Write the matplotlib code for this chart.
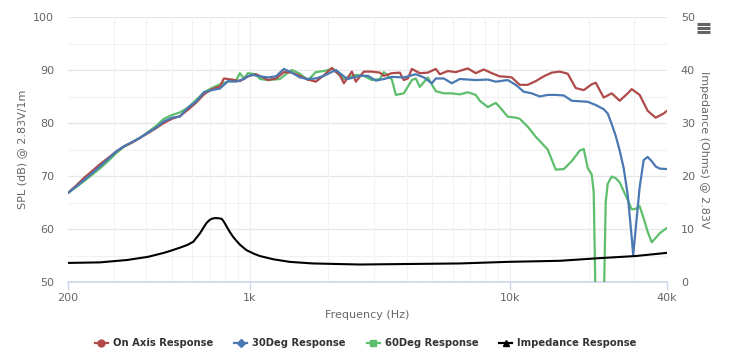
import numpy as np
import matplotlib
matplotlib.use("Agg")
import matplotlib.pyplot as plt
from matplotlib.lines import Line2D

# ---------------- data ----------------
on_axis_freq = [200, 215, 230, 247, 265, 285, 306, 328, 352, 378, 406, 435, 467, 502, 538, 578, 620, 666,
                714, 767, 794, 852, 915, 982, 1054, 1131, 1172, 1258, 1350, 1449, 1555, 1669, 1791, 1923,
                2064, 2215, 2295, 2463, 2551, 2738, 2939, 3154, 3269, 3509, 3766, 3900, 4041, 4186, 4492,
                4822, 5175, 5362, 5754, 6176, 6867, 7370, 7910, 8490, 9112, 9780, 10132, 10874, 11671,
                12526, 13444, 14430, 15487, 16622, 17840, 19147, 20550, 21292, 22852, 24527, 26324,
                28253, 29265, 31409, 33710, 36180, 38830, 40000]
on_axis_db = [66.8, 68.2, 69.6, 70.9, 72.2, 73.4, 74.6, 75.6, 76.3, 77.2, 78.1, 79.0, 80.0, 80.8, 81.3, 82.5,
              83.8, 85.4, 86.4, 86.9, 88.4, 88.2, 87.9, 88.8, 89.2, 88.5, 88.1, 88.4, 89.6, 89.5, 88.9,
              88.2, 87.8, 89.0, 90.4, 89.0, 87.5, 89.7, 87.8, 89.7, 89.7, 89.5, 88.9, 89.4, 89.5, 88.1,
              88.4, 90.2, 89.4, 89.5, 90.2, 89.2, 89.8, 89.6, 90.3, 89.4, 90.1, 89.4, 88.8, 88.7, 88.6,
              87.2, 87.2, 87.9, 88.8, 89.5, 89.7, 89.3, 86.6, 86.2, 87.3, 87.6, 84.8, 85.6, 84.2, 85.6,
              86.4, 85.3, 82.3, 81.0, 81.8, 82.3]

deg30_freq = [200, 215, 230, 247, 265, 285, 306, 328, 352, 378, 406, 435, 467, 502, 538, 578, 620, 666,
              714, 767, 823, 883, 948, 982, 1017, 1092, 1172, 1258, 1350, 1449, 1555, 1669, 1791, 1923,
              2138, 2295, 2377, 2644, 2838, 3046, 3269, 3509, 3900, 4337, 4654, 4996, 5175, 5554, 5961,
              6398, 7370, 8195, 8796, 9440, 9780, 10496, 11266, 12092, 12978, 13929, 14950, 16045,
              17221, 18483, 19838, 21292, 22852, 23672, 24527, 25406, 26324, 27267, 28253, 29265,
              29657, 30324, 31409, 32546, 33710, 34931, 36180, 37491, 40000]
deg30_db = [66.8, 68.0, 69.2, 70.5, 71.8, 73.2, 74.6, 75.6, 76.4, 77.2, 78.2, 79.1, 80.3, 81.0, 81.2, 82.9,
            84.0, 85.8, 86.2, 86.5, 87.9, 87.8, 88.3, 88.8, 89.1, 88.8, 88.6, 88.8, 90.2, 89.5, 88.6,
            88.3, 88.4, 88.9, 90.0, 88.8, 88.3, 88.9, 88.9, 88.0, 88.3, 88.7, 88.6, 89.2, 88.6, 87.5,
            88.4, 88.4, 87.5, 88.3, 88.1, 88.2, 87.8, 88.0, 88.1, 87.2, 85.9, 85.6, 85.0, 85.3, 85.3,
            85.2, 84.2, 84.1, 84.0, 83.4, 82.6, 81.8, 79.8, 77.6, 74.8, 71.5, 66.5, 58.5, 55.1, 60.0,
            67.9, 73.0, 73.6, 72.8, 71.8, 71.4, 71.3]

deg60_freq = [200, 215, 230, 247, 265, 285, 306, 328, 352, 378, 406, 435, 467, 502, 538, 578, 620, 666,
              714, 767, 823, 883, 915, 948, 982, 1054, 1092, 1172, 1303, 1399, 1449, 1555, 1669, 1791,
              1923, 2064, 2215, 2295, 2551, 2738, 2939, 3154, 3269, 3509, 3634, 3900, 4186, 4337,
              4492, 4822, 5175, 5554, 5961, 6398, 6867, 7370, 7635, 8195, 8796, 9112, 9780, 10496,
              10874, 11671, 12526, 13444, 13929, 14950, 16045, 17221, 18483, 19147, 19838, 20550,
              20916, 21292, 22056, 22852, 23259, 23672, 24527, 25406, 26324, 28253, 29265, 30324,
              31409, 32546, 33710, 34931, 36180, 37491, 40000]
deg60_db = [66.8, 67.9, 69.0, 70.2, 71.4, 72.8, 74.3, 75.5, 76.3, 77.2, 78.3, 79.4, 80.8, 81.5, 82.0, 82.9,
            84.3, 85.8, 86.6, 87.3, 87.8, 88.0, 89.4, 88.4, 89.4, 89.2, 88.3, 88.1, 88.3, 89.5, 90.0,
            89.3, 88.1, 89.6, 89.8, 90.2, 89.0, 88.3, 89.1, 88.9, 88.1, 88.3, 89.6, 88.2, 85.3, 85.6,
            88.1, 88.4, 86.8, 88.6, 86.0, 85.6, 85.6, 85.4, 85.8, 85.3, 84.2, 83.0, 83.8, 83.0, 81.2,
            81.0, 80.8, 79.3, 77.4, 75.8, 75.0, 71.2, 71.3, 72.8, 74.8, 75.1, 71.5, 70.3, 67.0, 45.0,
            40.0, 45.0, 65.0, 68.5, 69.9, 69.6, 68.8, 65.5, 63.7, 63.8, 64.3, 62.0, 59.5, 57.5, 58.3,
            59.2, 60.2]

imp_freq = [200, 265, 337, 406, 467, 493, 540, 575, 606, 643, 662, 680, 696, 711, 730, 747, 764, 780,
            798, 815, 838, 862, 890, 917, 970, 1040, 1092, 1226, 1420, 1744, 2640, 6400, 9780, 15500,
            22000, 30300, 40000]
imp_ohm = [3.6, 3.7, 4.15, 4.75, 5.5, 5.85, 6.5, 7.0, 7.6, 9.2, 10.2, 11.1, 11.6, 11.9, 12.05, 12.05,
           12.0, 11.9, 11.2, 10.4, 9.4, 8.5, 7.7, 7.0, 6.0, 5.3, 4.9, 4.3, 3.8, 3.5, 3.3, 3.5, 3.8, 4.0,
           4.5, 4.9, 5.5]

x_ticks = [200, 1000, 10000, 40000]
x_tick_labels = ["200", "1k", "10k", "40k"]
series_names = ["On Axis Response", "30Deg Response", "60Deg Response", "Impedance Response"]

# ---------------- style ----------------
RED = "#B04A4A"
BLUE = "#4A78B2"
GREEN = "#5DBE6C"
BLACK = "#000000"
TXT = "#666666"

W, H = 733, 358
fig = plt.figure(figsize=(W / 100, H / 100), dpi=100)
fig.patch.set_facecolor("white")

left, right, top, bottom = 68, 667, 17, 282
ax = fig.add_axes([left / W, 1 - bottom / H, (right - left) / W, (bottom - top) / H])
ax.set_xscale("log")
ax.set_xlim(200, 40000)
ax.set_ylim(50, 100)

# grid
for y in range(50, 101, 10):
    ax.axhline(y, color="#e6e6e6", lw=0.9, zorder=0)
for y in range(55, 100, 10):
    ax.axhline(y, color="#f2f2f2", lw=0.8, zorder=0)
minor_x = [300, 400, 500, 600, 700, 800, 900, 2000, 3000, 4000, 5000, 6000, 7000, 8000, 9000,
           20000, 30000]
for xv in minor_x:
    ax.axvline(xv, color="#f2f2f2", lw=0.8, zorder=0)
for xv in [1000, 10000]:
    ax.axvline(xv, color="#eeeeee", lw=0.8, zorder=0)

kw = dict(lw=1.6, solid_joinstyle="round", solid_capstyle="round")
ax.plot(on_axis_freq, on_axis_db, color=RED, zorder=3, **kw)
ax.plot(deg30_freq, deg30_db, color=BLUE, zorder=4, **kw)
ax.plot(deg60_freq, deg60_db, color=GREEN, zorder=2, **kw)

ax2 = ax.twinx()
ax2.set_ylim(0, 50)
ax2.plot(imp_freq, imp_ohm, color=BLACK, lw=1.5, solid_joinstyle="round", zorder=5)

for a in (ax, ax2):
    for s in ("top", "left", "right", "bottom"):
        a.spines[s].set_visible(False)

ax.axhline(50, color="#ccd6eb", lw=1.2, zorder=1, clip_on=False)

ax.set_xticks(x_ticks)
ax.set_xticklabels(x_tick_labels)
ax.xaxis.set_minor_locator(matplotlib.ticker.NullLocator())
ax.tick_params(axis="x", which="major", length=6, width=1, color="#ccd6eb",
               labelsize=8, labelcolor=TXT, pad=2)
ax.set_yticks(range(50, 101, 10))
ax.tick_params(axis="y", length=0, labelsize=8, labelcolor=TXT, pad=10)
ax2.set_yticks(range(0, 51, 10))
ax2.tick_params(axis="y", length=0, labelsize=8, labelcolor=TXT, pad=10)

ax.set_xlabel("Frequency (Hz)", fontsize=8, color=TXT, labelpad=5)
ax.set_ylabel("SPL (dB) @ 2.83V/1m", fontsize=8, color=TXT, labelpad=4)
ax2.set_ylabel("Impedance (Ohms) @ 2.83V", fontsize=8, color=TXT, rotation=270, labelpad=10)

# legend
handles = [
    Line2D([], [], color=RED, lw=1.6, marker="o", markersize=5),
    Line2D([], [], color=BLUE, lw=1.6, marker="D", markersize=4),
    Line2D([], [], color=GREEN, lw=1.6, marker="s", markersize=5),
    Line2D([], [], color=BLACK, lw=1.6, marker="^", markersize=5),
]
leg = fig.legend(handles, series_names, loc="center", bbox_to_anchor=(0.499, 1 - 343 / H),
                 ncol=4, frameon=False, fontsize=7.2, handlelength=1.3, columnspacing=2.1,
                 handletextpad=0.5)
for t in leg.get_texts():
    t.set_fontweight("bold")
    t.set_color("#333333")

# menu icon
for dy in (0, 4, 8):
    yy = 1 - (24 + dy) / H
    fig.add_artist(Line2D([697 / W, 710 / W], [yy, yy], color="#666666", lw=2.2,
                          solid_capstyle="butt"))

fig.savefig("out.png", dpi=100)
